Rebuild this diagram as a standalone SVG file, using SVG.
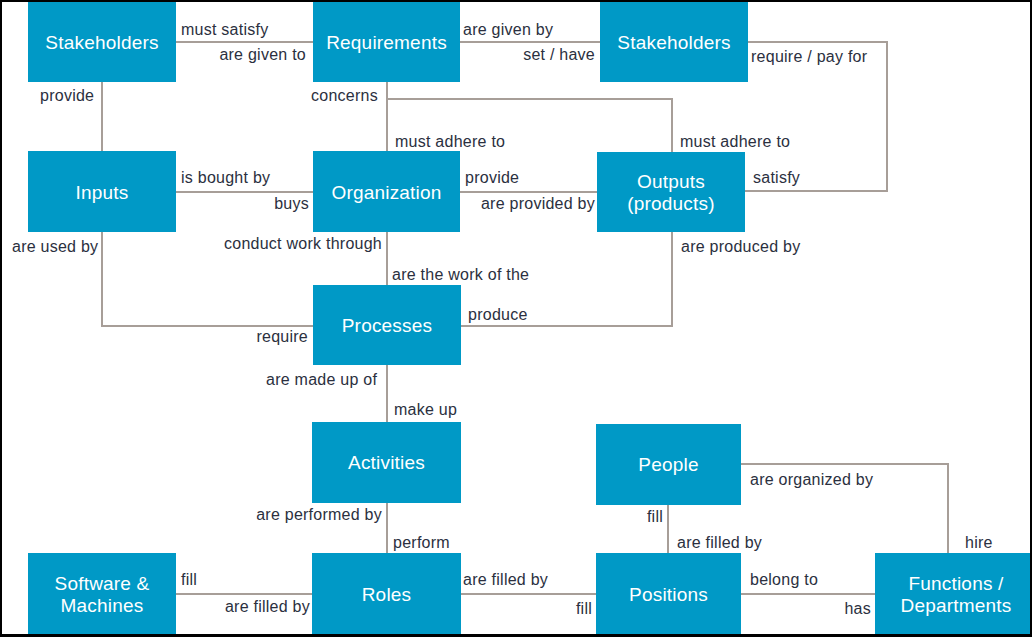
<svg xmlns="http://www.w3.org/2000/svg" width="1032" height="637" viewBox="0 0 1032 637">
<style>
.n{fill:#0099C6}
.t{font-family:"Liberation Sans",Arial,sans-serif;font-size:19px;letter-spacing:0.2px;fill:#ffffff;text-anchor:middle}
.l{font-family:"Liberation Sans",Arial,sans-serif;font-size:16px;letter-spacing:0.25px;fill:#2B3040}
.r{text-anchor:end}
.c{fill:none;stroke:#A79E98;stroke-width:2}
</style>
<rect x="0" y="0" width="1032" height="637" fill="#000"/>
<rect x="2" y="2" width="1028" height="632" fill="#fff"/>
<g id="connectors">
<path class="c" d="M176 42H313"/>
<path class="c" d="M460 42H600"/>
<path class="c" d="M748 42H887V191H745"/>
<path class="c" d="M102 82V151"/>
<path class="c" d="M387 82V151"/>
<path class="c" d="M387 99H672V152"/>
<path class="c" d="M176 192H313"/>
<path class="c" d="M460 192H597"/>
<path class="c" d="M102 232V326H313"/>
<path class="c" d="M387 232V285"/>
<path class="c" d="M461 326H672V232"/>
<path class="c" d="M387 365V422"/>
<path class="c" d="M387 503V553"/>
<path class="c" d="M176 594H312"/>
<path class="c" d="M461 594H596"/>
<path class="c" d="M668 505V553"/>
<path class="c" d="M741 464H948V553"/>
<path class="c" d="M741 594H875"/>
</g>
<g id="labels">
<text class="l" x="181" y="35">must satisfy</text>
<text class="l r" x="306" y="60">are given to</text>
<text class="l" x="40" y="101">provide</text>
<text class="l" x="311" y="101">concerns</text>
<text class="l" x="463" y="35">are given by</text>
<text class="l r" x="595" y="60">set / have</text>
<text class="l" x="751" y="62">require / pay for</text>
<text class="l" x="395" y="147">must adhere to</text>
<text class="l" x="680" y="147">must adhere to</text>
<text class="l" x="181" y="183">is bought by</text>
<text class="l r" x="309" y="209">buys</text>
<text class="l" x="465" y="183">provide</text>
<text class="l r" x="595" y="209">are provided by</text>
<text class="l" x="753" y="183">satisfy</text>
<text class="l" x="12" y="252">are used by</text>
<text class="l" x="224" y="249">conduct work through</text>
<text class="l" x="681" y="252">are produced by</text>
<text class="l" x="392" y="280">are the work of the</text>
<text class="l" x="468" y="320">produce</text>
<text class="l r" x="308" y="342">require</text>
<text class="l" x="266" y="385">are made up of</text>
<text class="l" x="394" y="415">make up</text>
<text class="l r" x="382" y="520">are performed by</text>
<text class="l" x="393" y="548">perform</text>
<text class="l" x="181" y="585">fill</text>
<text class="l r" x="310" y="612">are filled by</text>
<text class="l" x="463" y="585">are filled by</text>
<text class="l r" x="592" y="614">fill</text>
<text class="l r" x="663" y="522">fill</text>
<text class="l" x="677" y="548">are filled by</text>
<text class="l" x="750" y="485">are organized by</text>
<text class="l" x="965" y="548">hire</text>
<text class="l" x="750" y="585">belong to</text>
<text class="l r" x="871" y="614">has</text>
</g>
<g id="stakeholders1"><rect class="n" x="28" y="2" width="148" height="80"/><text class="t" x="102" y="49">Stakeholders</text></g>
<g id="requirements"><rect class="n" x="313" y="2" width="147" height="80"/><text class="t" x="386.5" y="49">Requirements</text></g>
<g id="stakeholders2"><rect class="n" x="600" y="2" width="148" height="80"/><text class="t" x="674" y="49">Stakeholders</text></g>
<g id="inputs"><rect class="n" x="28" y="151" width="148" height="81"/><text class="t" x="102" y="199">Inputs</text></g>
<g id="organization"><rect class="n" x="313" y="151" width="147" height="81"/><text class="t" x="386.5" y="199">Organization</text></g>
<g id="outputs"><rect class="n" x="597" y="152" width="148" height="80"/><text class="t" x="671" y="188">Outputs</text><text class="t" x="671" y="210">(products)</text></g>
<g id="processes"><rect class="n" x="313" y="285" width="148" height="80"/><text class="t" x="387" y="332">Processes</text></g>
<g id="activities"><rect class="n" x="312" y="422" width="149" height="81"/><text class="t" x="386.5" y="469">Activities</text></g>
<g id="people"><rect class="n" x="596" y="424" width="145" height="81"/><text class="t" x="668.5" y="471">People</text></g>
<g id="software"><rect class="n" x="28" y="553" width="148" height="81"/><text class="t" x="102" y="590">Software &amp;</text><text class="t" x="102" y="612">Machines</text></g>
<g id="roles"><rect class="n" x="312" y="553" width="149" height="81"/><text class="t" x="386.5" y="601">Roles</text></g>
<g id="positions"><rect class="n" x="596" y="553" width="145" height="81"/><text class="t" x="668.5" y="601">Positions</text></g>
<g id="functions"><rect class="n" x="875" y="553" width="155" height="81"/><text class="t" x="956" y="590">Functions /</text><text class="t" x="956" y="612">Departments</text></g>
</svg>
